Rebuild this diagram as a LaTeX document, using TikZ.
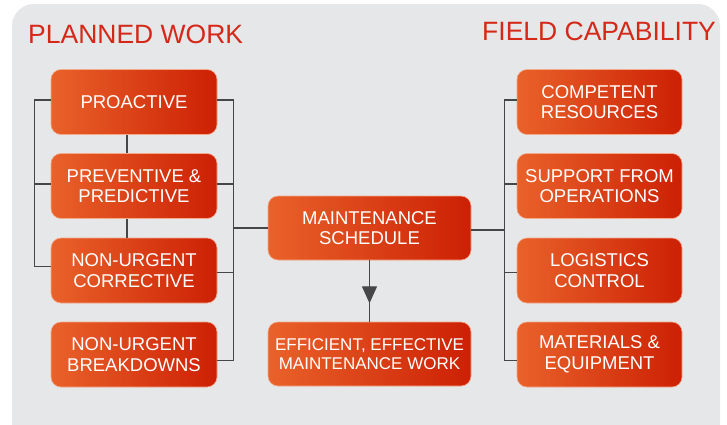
\documentclass[tikz,border=0pt]{standalone}
\usepackage{fontspec}
\setmainfont{Liberation Sans}
\usepackage{tikz}
\usetikzlibrary{arrows.meta,decorations.markings}
\definecolor{panelgray}{RGB}{230,231,233}
\definecolor{titlered}{RGB}{212,40,24}
\definecolor{boxorange}{RGB}{233,98,42}
\definecolor{boxred}{RGB}{204,32,4}
\definecolor{linkgray}{RGB}{70,70,72}

\begin{document}
\begin{tikzpicture}[x=1pt, y=-1pt,
  box/.style={rounded corners=10pt, left color=boxorange, right color=boxred,
    draw=boxorange!55!white, line width=0.6pt, text=white, align=center,
    inner sep=0pt, minimum width=166pt, minimum height=65pt,
    font=\fontsize{18.5}{20.6}\selectfont},
  widebox/.style={box, minimum width=203pt, minimum height=64pt},
  heading/.style={text=titlered, inner sep=0pt, anchor=base west,
    font=\fontsize{26.5}{30}\selectfont},
  link/.style={draw=linkgray, line width=1.3pt},
  tiparrow/.style={postaction={decorate}, decoration={markings,
    mark=at position 0.7 with {\arrow{Triangle[length=17pt,width=15pt]}}}}]
\useasboundingbox (0,0) rectangle (727,424);
\fill[panelgray, rounded corners=22pt] (12,4) rectangle (720,446);
%
\node[heading] (planned) at (28,43) {PLANNED WORK};
\node[heading] (field) at (482,40) {FIELD CAPABILITY};
%
\node[box] (pro)  at (134,102)   {PROACTIVE};
\node[box] (prev) at (134,186)   {PREVENTIVE \&\\PREDICTIVE};
\node[box] (corr) at (134,270.5) {NON-URGENT\\CORRECTIVE};
\node[box] (brk)  at (134,354.5) {NON-URGENT\\BREAKDOWNS};
%
\node[widebox] (sched) at (369.5,228) {MAINTENANCE\\SCHEDULE};
\node[widebox, font=\fontsize{17}{19}\selectfont] (work) at (369.5,354)
  {EFFICIENT, EFFECTIVE\\MAINTENANCE WORK};
%
\node[box, minimum width=165pt] (comp) at (599.5,102)   {COMPETENT\\RESOURCES};
\node[box, minimum width=165pt] (supp) at (599.5,186)   {SUPPORT FROM\\OPERATIONS};
\node[box, minimum width=165pt] (logi) at (599.5,270.5) {LOGISTICS\\CONTROL};
\node[box, minimum width=165pt] (mat)  at (599.5,354.5) {MATERIALS \&\\EQUIPMENT};
%
% planned work links
\draw[link] ([yshift=2]pro.west) -- ++(-16,0) |- ([yshift=4]corr.west);
\draw[link] ([yshift=2]prev.west) -- ++(-16,0);
\draw[link] ([xshift=-7]pro.south) -- ([xshift=-7]prev.north);
\draw[link] ([xshift=-7]prev.south) -- ([xshift=-7]corr.north);
\draw[link] ([yshift=2]pro.east) -- ++(16,0) coordinate (lbr) |- ([yshift=-6]brk.east);
\draw[link] ([yshift=2]prev.east) -- ++(16,0);
\draw[link] ([yshift=-2]corr.east) -- ++(16,0);
\draw[link] (sched.west) -- (sched.west -| lbr);
%
% field capability links
\draw[link] ([yshift=2]comp.west) -- ++(-12,0) coordinate (rbr) |- ([yshift=-6]mat.west);
\draw[link] ([yshift=2]supp.west) -- ++(-12,0);
\draw[link] ([yshift=-2]logi.west) -- ++(-12,0);
\draw[link] ([yshift=-2]sched.east) -- ([yshift=-2]sched.east -| rbr);
%
\draw[link, tiparrow] (sched.south) -- (work.north);
\end{tikzpicture}
\end{document}
